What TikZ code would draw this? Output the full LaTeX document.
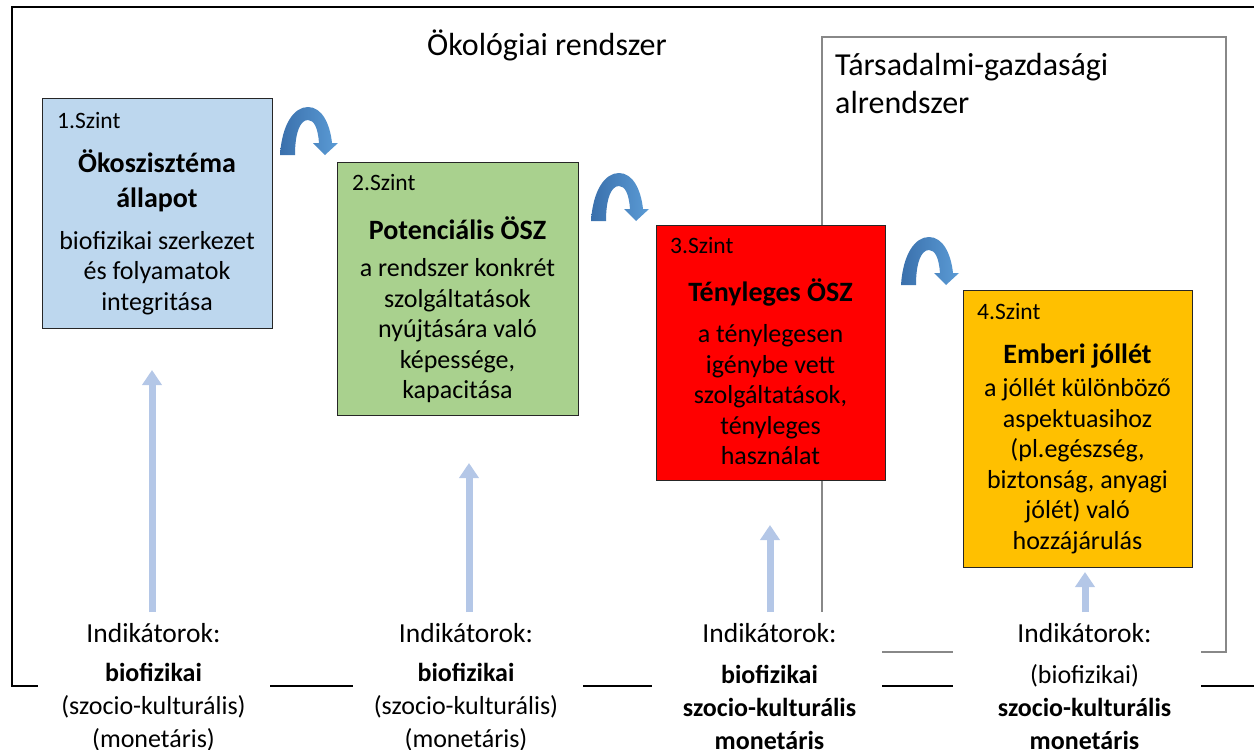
\documentclass[tikz,border=0pt]{standalone}
\usepackage{fontspec}
\setmainfont{Carlito}
\usetikzlibrary{arrows.meta}
\definecolor{cblue}{HTML}{BDD7EE}
\definecolor{cgreen}{HTML}{A9D18E}
\definecolor{cred}{HTML}{FF0000}
\definecolor{corange}{HTML}{FFC000}
\definecolor{arrdark}{HTML}{3A70AC}
\definecolor{arrlight}{HTML}{5B9BD5}
\definecolor{upblue}{HTML}{B4C7E7}
\definecolor{framegrey}{HTML}{888888}
\begin{document}
\begin{tikzpicture}[x=1pt,y=-1pt,
  levelbox/.style={draw=black!85, line width=1.3pt, anchor=north west, inner sep=0pt},
  lvl/.style={anchor=west, inner sep=0pt, font=\fontsize{23.5}{27}\selectfont},
  title/.style={align=center, inner sep=0pt, font=\bfseries\fontsize{28}{35}\selectfont},
  body/.style={align=center, inner sep=0pt, font=\fontsize{26}{30.5}\selectfont},
  big/.style={inner sep=0pt, font=\fontsize{32}{38}\selectfont},
  cover/.style={fill=white, draw=none, anchor=north west, inner sep=0pt, minimum height=150pt},
  ind/.style={inner sep=0pt, font=\fontsize{27.5}{30}\selectfont},
  indlist/.style={align=center, inner sep=0pt, font=\fontsize{26}{33}\selectfont},
  uparrow/.style={draw=upblue, line width=7pt, -{Triangle[length=15pt,width=19pt]}},
  curvy/.pic={
    \shade[left color=arrdark, right color=arrlight]
      (0,0) .. controls (2,-31) and (14,-48) .. (28,-48)
      .. controls (42,-48) and (50,-31) .. (52,-12)
      -- (58,-12) -- (45,0) -- (33,-12) -- (39,-12)
      .. controls (38,-27) and (34,-35) .. (28,-35)
      .. controls (20,-35) and (15,-22) .. (15,0) -- cycle;
  }
]
\useasboundingbox (0,0) rectangle (1254,750);

% frames
\draw[line width=1.8pt, black] (12,7) rectangle (1262,686);
\draw[line width=1.4pt, framegrey] (822,37) rectangle (1226,652);

% frame titles
\node[big] (eco) at (547,45) {Ökológiai rendszer};
\node[big, align=left, anchor=west] (soc) at (835,84) {Társadalmi-gazdasági\\alrendszer};

% level boxes
\node[levelbox, fill=cblue, minimum width=230pt, minimum height=230pt] (box1) at (42,98) {};
\node[levelbox, fill=cgreen, minimum width=241pt, minimum height=253pt] (box2) at (337,162) {};
\node[levelbox, fill=cred, minimum width=229pt, minimum height=255pt] (box3) at (656,225) {};
\node[levelbox, fill=corange, minimum width=229pt, minimum height=277pt] (box4) at (963,290) {};

\node[lvl] (lv1) at (57,121) {1.Szint};
\node[lvl] (lv2) at (352,183) {2.Szint};
\node[lvl] (lv3) at (670,246) {3.Szint};
\node[lvl] (lv4) at (977,312) {4.Szint};

\node[title] (t1) at (157,180.5) {Ökoszisztéma\\állapot};
\node[title] (t2) at (457.5,228) {Potenciális ÖSZ};
\node[title] (t3) at (770.5,292) {Tényleges ÖSZ};
\node[title] (t4) at (1077.5,356) {Emberi jóllét};

\node[body] (d1) at (157,273) {biofizikai szerkezet\\és folyamatok\\integritása};
\node[body] (d2) at (457.5,331) {a rendszer konkrét\\szolgáltatások\\nyújtására való\\képessége,\\kapacitása};
\node[body] (d3) at (770.5,395) {a ténylegesen\\igénybe vett\\szolgáltatások,\\tényleges\\használat};
\node[body] (d4) at (1077.5,466) {a jóllét különböző\\aspektuasihoz\\(pl.egészség,\\biztonság, anyagi\\jólét) való\\hozzájárulás};

% curved arrows between levels
\pic (ca1) at (280,155) {curvy};
\pic (ca2) at (591,221) {curvy};
\pic (ca3) at (901,285) {curvy};

% white covers for indicator labels
\node[cover, minimum width=232pt] (cov1) at (38,612) {};
\node[cover, minimum width=230pt] (cov2) at (353,612) {};
\node[cover, minimum width=230pt] (cov3) at (652,612) {};
\node[cover, minimum width=248pt] (cov4) at (953,612) {};

% indicator arrows
\coordinate (a1) at (152,370);
\coordinate (a2) at (469,463);
\coordinate (a3) at (770,525);
\coordinate (a4) at (1085,572);
\draw[uparrow] (a1 |- cov1.north) -- (a1);
\draw[uparrow] (a2 |- cov2.north) -- (a2);
\draw[uparrow] (a3 |- cov3.north) -- (a3);
\draw[uparrow] (a4 |- cov4.north) -- (a4);

% indicator texts
\node[ind] (i1) at (153.5,633) {Indikátorok:};
\node[ind] (i2) at (466,633) {Indikátorok:};
\node[ind] (i3) at (769.5,633) {Indikátorok:};
\node[ind] (i4) at (1084.5,633) {Indikátorok:};

\node[indlist] (k1) at (153.5,707) {\textbf{biofizikai}\\(szocio-kulturális)\\(monetáris)};
\node[indlist] (k2) at (466,707) {\textbf{biofizikai}\\(szocio-kulturális)\\(monetáris)};
\node[indlist] (k3) at (769.5,707) {\textbf{biofizikai}\\\textbf{szocio-kulturális}\\\textbf{monetáris}};
\node[indlist] (k4) at (1084.5,707) {(biofizikai)\\\textbf{szocio-kulturális}\\\textbf{monetáris}};
\end{tikzpicture}
\end{document}
